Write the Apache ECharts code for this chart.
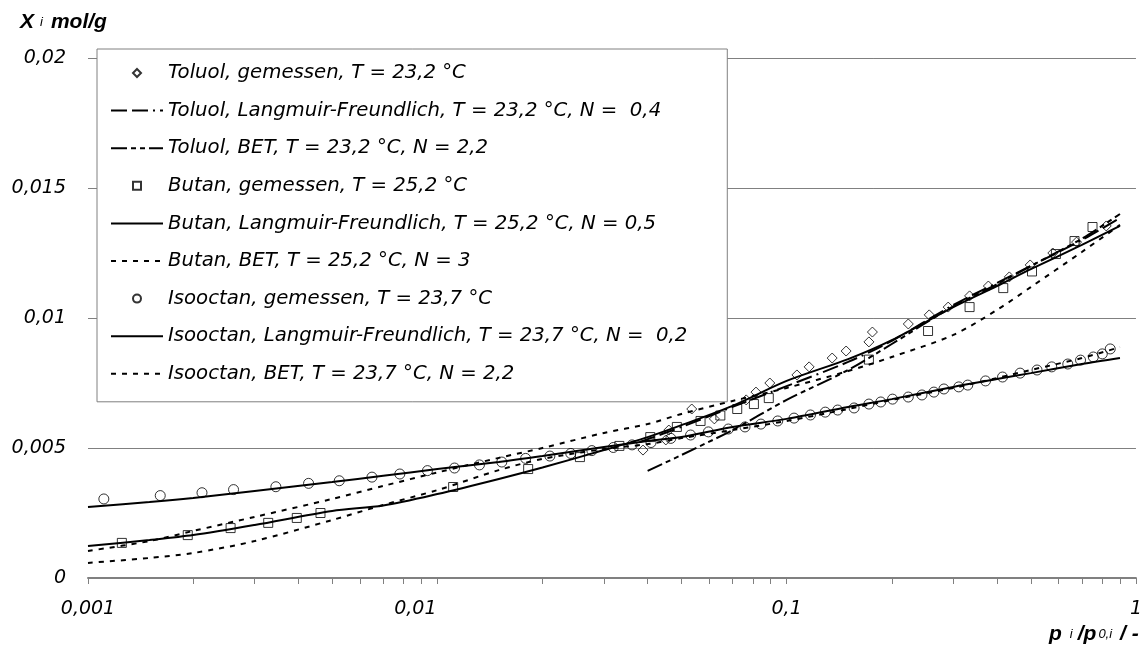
<!DOCTYPE html>
<html>
<head>
<meta charset="utf-8">
<script src="https://cdn.jsdelivr.net/npm/echarts@6/dist/echarts.min.js"></script>
<style>
  html, body { margin: 0; padding: 0; background: #fff; }
  #chart { width: 1145px; height: 648px; }
</style>
</head>
<body>
<div id="chart"></div>
<script>
// legend names (series order)
const seriesNames = [
  'Toluol, gemessen, T = 23,2 °C',
  'Toluol, Langmuir-Freundlich, T = 23,2 °C, N =  0,4',
  'Toluol, BET, T = 23,2 °C, N = 2,2',
  'Butan, gemessen, T = 25,2 °C',
  'Butan, Langmuir-Freundlich, T = 25,2 °C, N = 0,5',
  'Butan, BET, T = 25,2 °C, N = 3',
  'Isooctan, gemessen, T = 23,7 °C',
  'Isooctan, Langmuir-Freundlich, T = 23,7 °C, N =  0,2',
  'Isooctan, BET, T = 23,7 °C, N = 2,2'
]

// measured points
const toluolX = [0.0388, 0.0451, 0.0460, 0.0535, 0.0621, 0.0766, 0.0817, 0.0895, 0.107, 0.116, 0.135, 0.148,
  0.172, 0.176, 0.223, 0.256, 0.290, 0.334, 0.378, 0.434, 0.498, 0.578, 0.676, 0.822]
const toluolY = [0.00492, 0.00531, 0.00569, 0.00650, 0.00612, 0.00685, 0.00715, 0.00750, 0.00781, 0.00812, 0.00846, 0.00873,
  0.00908, 0.00946, 0.00977, 0.01012, 0.01042, 0.01085, 0.01123, 0.01158, 0.01204, 0.01250, 0.01292, 0.01354]

const butanX = [0.00125, 0.00193, 0.00256, 0.00328, 0.00396, 0.00463, 0.0111, 0.0182, 0.0256, 0.0332, 0.0407, 0.0485,
  0.0567, 0.0646, 0.0722, 0.0806, 0.0889, 0.172, 0.254, 0.334, 0.417, 0.504, 0.590, 0.667, 0.751]
const butanY = [0.00135, 0.00165, 0.00192, 0.00212, 0.00231, 0.00250, 0.00350, 0.00419, 0.00465, 0.00508, 0.00542, 0.00581,
  0.00604, 0.00625, 0.00650, 0.00669, 0.00692, 0.00840, 0.00950, 0.01042, 0.01115, 0.01179, 0.01246, 0.01296, 0.01350]

const isooctanX = [0.00111, 0.00161, 0.00212, 0.00261, 0.00345, 0.00428, 0.00524, 0.00650, 0.00781, 0.00937, 0.0112, 0.0132,
  0.0153, 0.0179, 0.0210, 0.0241, 0.0277, 0.0319, 0.0361, 0.0409, 0.0466, 0.0531, 0.0597, 0.0681, 0.0760, 0.0844,
  0.0943, 0.105, 0.117, 0.129, 0.140, 0.156, 0.172, 0.186, 0.201, 0.223, 0.244, 0.264, 0.282, 0.311, 0.330, 0.371,
  0.415, 0.466, 0.521, 0.574, 0.638, 0.694, 0.755, 0.801, 0.844]
const isooctanY = [0.00304, 0.00317, 0.00328, 0.00340, 0.00351, 0.00364, 0.00374, 0.00388, 0.00400, 0.00413, 0.00423, 0.00435,
  0.00446, 0.00460, 0.00469, 0.00479, 0.00490, 0.00502, 0.00512, 0.00521, 0.00537, 0.00550, 0.00562, 0.00573, 0.00581, 0.00592,
  0.00604, 0.00615, 0.00627, 0.00638, 0.00646, 0.00654, 0.00669, 0.00677, 0.00688, 0.00696, 0.00704, 0.00715, 0.00727, 0.00735, 0.00742, 0.00758,
  0.00773, 0.00788, 0.00800, 0.00812, 0.00823, 0.00838, 0.00850, 0.00862, 0.00881]

// model curves
const modelX = [0.001, 0.0015, 0.002, 0.003, 0.005, 0.007, 0.01, 0.015, 0.02, 0.03, 0.04, 0.05, 0.07, 0.1, 0.15, 0.2,
  0.3, 0.4, 0.5, 0.7, 0.9]
const butanLF = [0.00123, 0.00146, 0.00165, 0.00204, 0.00258, 0.00279, 0.00323, 0.00381, 0.00425, 0.00492, 0.00542, 0.00588,
  0.00662, 0.00758, 0.00842, 0.00915, 0.01042, 0.01123, 0.01188, 0.01281, 0.01354]
const butanBET = [0.00104, 0.00142, 0.00181, 0.00235, 0.00304, 0.00354, 0.00406, 0.00462, 0.00500, 0.00558, 0.00592, 0.00631,
  0.00681, 0.00731, 0.00796, 0.00850, 0.00935, 0.01031, 0.01119, 0.01254, 0.01358]
const isooctanLF = [0.00273, 0.00292, 0.00308, 0.00335, 0.00369, 0.00393, 0.00419, 0.00446, 0.00469, 0.00504, 0.00527, 0.00542,
  0.00581, 0.00612, 0.00658, 0.00688, 0.00735, 0.00765, 0.00788, 0.00823, 0.00846]
const isooctanBET = [0.00058, 0.00077, 0.00096, 0.00142, 0.00223, 0.00281, 0.00338, 0.00415, 0.00458, 0.00496, 0.00515, 0.00538,
  0.00569, 0.00604, 0.00650, 0.00685, 0.00731, 0.00769, 0.00800, 0.00846, 0.00888]

const toluolLFX = [0.038, 0.05, 0.07, 0.1, 0.15, 0.2, 0.3, 0.4, 0.5, 0.7, 0.9]
const toluolLF = [0.00523, 0.00581, 0.00658, 0.00738, 0.00831, 0.00912, 0.01050, 0.01135, 0.01200, 0.01300, 0.01385]
const toluolBETX = [0.04, 0.05, 0.07, 0.1, 0.15, 0.2, 0.3, 0.4, 0.5, 0.7, 0.9]
const toluolBET = [0.00412, 0.00473, 0.00569, 0.00685, 0.00800, 0.00900, 0.01045, 0.01130, 0.01200, 0.01305, 0.01400]

const xTickLabels = { 0.001: '0,001', 0.01: '{l|0,01}', 0.1: '0,1', 1: '1' }

// legend icons that keep a square shape
const iconDiamond = 'path://M5,0L10,5L5,10L0,5Z'
const iconSquare = 'path://M0,0L10,0L10,10L0,10Z'

function pairs(xs, ys) {
  return xs.map((x, i) => [x, ys[i]])
}

function scatter(name, xs, ys, symbol, size) {
  return {
    name: name,
    type: 'scatter',
    data: pairs(xs, ys),
    symbol: symbol,
    symbolSize: size,
    color: '#000',
    itemStyle: { color: 'rgba(0,0,0,0)', borderColor: '#000', borderWidth: 1 },
    z: 4,
    silent: true
  }
}

function curve(name, xs, ys, dash) {
  return {
    name: name,
    type: 'line',
    data: pairs(xs, ys),
    symbol: 'none',
    smooth: 0.3,
    color: '#000',
    lineStyle: { color: '#000', width: 2, type: dash },
    z: 3,
    silent: true
  }
}

const chart = echarts.init(document.getElementById('chart'))
const gray = '#808080'
const labelFont = { fontFamily: 'DejaVu Sans', fontStyle: 'italic', fontSize: 19, color: '#000' }
const hideDot = { opacity: 0 }

chart.setOption({
  animation: false,
  backgroundColor: '#fff',
  grid: { left: 88, top: 58, width: 1060, height: 520, containLabel: false },
  legend: {
    orient: 'vertical',
    left: 97,
    top: 49,
    padding: [14, 40, 18, 13],
    itemWidth: 52,
    itemHeight: 8,
    itemGap: 17.6,
    backgroundColor: '#fff',
    borderColor: gray,
    borderWidth: 1,
    selectedMode: false,
    symbolKeepAspect: true,
    textStyle: { fontFamily: 'DejaVu Sans', fontStyle: 'italic', fontSize: 19.7, color: '#000' },
    data: [
      { name: seriesNames[0], icon: iconDiamond },
      { name: seriesNames[1], itemStyle: hideDot },
      { name: seriesNames[2], itemStyle: hideDot },
      { name: seriesNames[3], icon: iconSquare },
      { name: seriesNames[4], itemStyle: hideDot },
      { name: seriesNames[5], itemStyle: hideDot },
      { name: seriesNames[6] },
      { name: seriesNames[7], itemStyle: hideDot },
      { name: seriesNames[8], itemStyle: hideDot }
    ]
  },
  xAxis: {
    type: 'log',
    logBase: 10,
    min: 0.001,
    max: 1,
    axisLine: { lineStyle: { color: gray, width: 2 } },
    axisTick: { show: true, length: 6, lineStyle: { color: gray } },
    minorTick: { show: true, splitNumber: 9, length: 6, lineStyle: { color: gray } },
    splitLine: { show: false },
    axisLabel: Object.assign({
      margin: 22,
      formatter: (v) => xTickLabels[v] || String(v).replace('.', ','),
      rich: { l: Object.assign({ padding: [0, 44, 0, 0] }, labelFont) }
    }, labelFont)
  },
  yAxis: {
    type: 'value',
    min: 0,
    max: 0.02,
    interval: 0.005,
    axisLine: { show: false },
    axisTick: { show: false },
    splitLine: { lineStyle: { color: gray, width: 1 } },
    axisLabel: Object.assign({ margin: 22, formatter: (v) => String(v).replace('.', ',') }, labelFont)
  },
  graphic: [
    {
      type: 'text',
      left: 20,
      top: 12,
      style: {
        text: '{a|X}{s|i}{b|mol/g}',
        rich: {
          a: { fontFamily: 'Liberation Sans', fontWeight: 'bold', fontStyle: 'italic', fontSize: 21, fill: '#000' },
          s: { fontFamily: 'Liberation Sans', fontStyle: 'italic', fontSize: 13, fill: '#000', padding: [0, 0, 0, 6] },
          b: { fontFamily: 'Liberation Sans', fontWeight: 'bold', fontStyle: 'italic', fontSize: 21, fill: '#000', padding: [0, 0, 0, 8] }
        }
      }
    },
    {
      type: 'text',
      left: 1049,
      top: 624,
      style: {
        text: '{a|p}{s|i}{b|/p}{t|0,i}{c|/ -}',
        rich: {
          a: { fontFamily: 'Liberation Sans', fontWeight: 'bold', fontStyle: 'italic', fontSize: 21, fill: '#000' },
          s: { fontFamily: 'Liberation Sans', fontStyle: 'italic', fontSize: 13, fill: '#000', padding: [0, 0, 0, 8] },
          b: { fontFamily: 'Liberation Sans', fontWeight: 'bold', fontStyle: 'italic', fontSize: 21, fill: '#000', padding: [0, 0, 0, 5] },
          t: { fontFamily: 'Liberation Sans', fontStyle: 'italic', fontSize: 13, fill: '#000', padding: [0, 0, 0, 2] },
          c: { fontFamily: 'Liberation Sans', fontWeight: 'bold', fontStyle: 'italic', fontSize: 21, fill: '#000', padding: [0, 0, 0, 8] }
        }
      }
    }
  ],
  series: [
    scatter(seriesNames[0], toluolX, toluolY, 'diamond', 10),
    curve(seriesNames[1], toluolLFX, toluolLF, [16, 5, 16, 5, 2, 5]),
    curve(seriesNames[2], toluolBETX, toluolBET, [16, 4, 5, 4, 5, 4]),
    scatter(seriesNames[3], butanX, butanY, 'rect', 9),
    curve(seriesNames[4], modelX, butanLF, 'solid'),
    curve(seriesNames[5], modelX, butanBET, [5, 6]),
    scatter(seriesNames[6], isooctanX, isooctanY, 'circle', 10),
    curve(seriesNames[7], modelX, isooctanLF, 'solid'),
    curve(seriesNames[8], modelX, isooctanBET, [5, 6])
  ]
})
</script>
</body>
</html>
